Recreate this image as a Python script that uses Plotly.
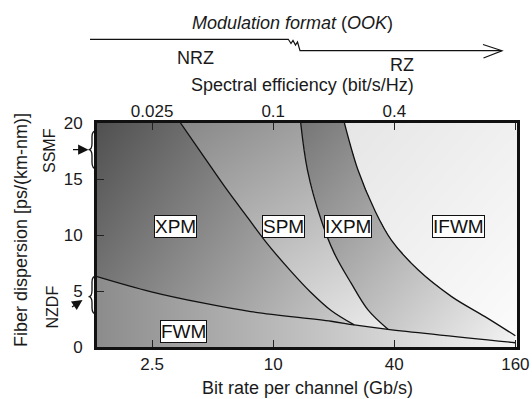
import numpy as np
import plotly.graph_objects as go

# ---------------- data ----------------
bitrate_ticks = [2.5, 10, 40, 160]            # Gb/s (bottom axis)
se_tick_pos = [2.5, 10, 40]                   # matching bit rates for spectral-efficiency ticks
se_tick_text = ["0.025", "0.1", "0.4"]        # bit/s/Hz (top axis)
disp_ticks = [0, 5, 10, 15, 20]               # ps/(km-nm)

# boundary XPM | SPM
xpm_spm_x = [3.46, 4.52, 5.91, 7.45, 9.36, 12.2, 15.4, 19.4, 25.3]
xpm_spm_y = [20.0, 17.0, 14.0, 11.58, 9.21, 6.80, 4.87, 3.26, 1.97]
# boundary SPM | IXPM
spm_ixpm_x = [13.7, 14.8, 17.3, 20.1, 24.4, 29.6, 37.2]
spm_ixpm_y = [20.0, 15.8, 11.36, 8.38, 5.70, 3.31, 1.58]
# boundary IXPM | IFWM
ixpm_ifwm_x = [22.6, 26.4, 31.9, 38.6, 52.5, 77.1, 113, 160]
ixpm_ifwm_y = [20.0, 15.8, 12.25, 9.57, 6.89, 4.50, 2.71, 1.0]
# boundary FWM (below)
fwm_x = [1.33, 2.45, 4.52, 7.73, 19.4, 25.3, 37.2, 160]
fwm_y = [6.29, 4.95, 3.91, 3.16, 2.30, 1.97, 1.58, 0.38]

region_names = ["XPM", "SPM", "IXPM", "IFWM", "FWM"]
region_label_x = [3.27, 11.2, 23.5, 83.2, 3.6]
region_label_y = [10.76, 10.76, 10.76, 10.76, 1.37]

X_MIN, X_MAX = 1.33, 163.0
Y_MIN, Y_MAX = 0.0, 20.0

# ---------------- background shading (style) ----------------
nx, ny = 420, 224
lx_edges = np.linspace(np.log10(X_MIN), np.log10(X_MAX), nx + 1)
x_edges = 10 ** lx_edges
y_edges = np.linspace(Y_MIN, Y_MAX, ny + 1)
lxc = (lx_edges[:-1] + lx_edges[1:]) / 2
yc = (y_edges[:-1] + y_edges[1:]) / 2
LX, Y = np.meshgrid(lxc, yc)
u = (LX - lx_edges[0]) / (lx_edges[-1] - lx_edges[0])
w = 1 - Y / Y_MAX


def bound(cx, cy):
    return np.interp(LX, np.log10(cx), cy, left=99, right=-99)


c1 = bound(xpm_spm_x, xpm_spm_y)
c2 = bound(spm_ixpm_x, spm_ixpm_y)
c3 = bound(ixpm_ifwm_x, ixpm_ifwm_y)
f = np.interp(LX, np.log10(fwm_x), fwm_y)

g = np.where(
    Y < f, 140 + 105 * u,
    np.where(Y < c1, 80 + 130 * u + 50 * w,
             np.where(Y < c2, 120 + 80 * u + 65 * w,
                      np.where(Y < c3, 55 + 130 * u + 60 * w,
                               215 + 25 * u + 12 * w))))
g = np.clip(np.round(g), 0, 255).astype(int)

fig = go.Figure()
fig.add_trace(go.Heatmap(
    x=x_edges, y=y_edges, z=g.tolist(),
    colorscale=[[0, "rgb(0,0,0)"], [1, "rgb(255,255,255)"]],
    zmin=0, zmax=255, showscale=False, hoverinfo="skip", zsmooth=False))

for cx, cy in [(xpm_spm_x, xpm_spm_y), (spm_ixpm_x, spm_ixpm_y),
               (ixpm_ifwm_x, ixpm_ifwm_y), (fwm_x, fwm_y)]:
    fig.add_trace(go.Scatter(x=cx, y=cy, mode="lines",
                             line=dict(color="#111", width=1.3, shape="spline"),
                             hoverinfo="skip"))

# invisible trace to anchor the top axis
fig.add_trace(go.Scatter(x=se_tick_pos, y=[0, 0, 0], xaxis="x2", mode="markers",
                         marker=dict(opacity=0), hoverinfo="skip"))

FONT = "Liberation Sans, Arial, Helvetica, sans-serif"
TXT = "#1a1a1a"

annotations = []
for name, lx, ly in zip(region_names, region_label_x, region_label_y):
    annotations.append(dict(x=np.log10(lx), y=ly, xref="x", yref="y", text=name,
                            xanchor="center", yanchor="middle",
                            showarrow=False, font=dict(size=19, color="#111", family=FONT),
                            bgcolor="white", bordercolor="#111", borderwidth=1, borderpad=0))


def px(p):
    return (p - 97) / 420.0


def py(p):
    return (347 - p) / 224.0


def txt(xv, yv, text, size=18, angle=0, yref="paper"):
    return dict(x=xv, y=yv, xref="paper", yref=yref, showarrow=False, text=text,
                xanchor="center", yanchor="middle", textangle=angle,
                font=dict(size=size, color=TXT))


annotations += [
    txt(px(292), py(22.7), "<i>Modulation format</i> (<i>OOK</i>)"),
    txt(px(195), py(58.3), "NRZ"),
    txt(px(402), py(64.5), "RZ"),
    txt(px(302), py(84.5), "Spectral efficiency (bit/s/Hz)"),
    txt(px(307), py(388), "Bit rate per channel (Gb/s)"),
    txt(px(21), py(230), "Fiber dispersion [ps/(km-nm)]", angle=-90),
    txt(px(49), 17.5, "SSMF", size=16, angle=-90, yref="y"),
    txt(px(52), 3.53, "NZDF", size=16, angle=-90, yref="y"),
    # arrows
    dict(x=px(88.5), y=17.62, xref="paper", yref="y", text="", showarrow=True,
         ax=-17, ay=0, arrowhead=2, arrowsize=1.6, arrowwidth=1.3, arrowcolor="#111", standoff=0),
    dict(x=px(82.5), y=4.2, xref="paper", yref="y", text="", showarrow=True,
         ax=-12, ay=8, arrowhead=2, arrowsize=1.6, arrowwidth=1.3, arrowcolor="#111", standoff=0),
]


def brace(ytop, ymid, ybot, d=0.55):
    xe, xs, xt = px(96.5), px(92), px(88.5)
    return (f"M {xe},{ytop} Q {xs},{ytop} {xs},{ytop - d} L {xs},{ymid + d} "
            f"Q {xs},{ymid} {xt},{ymid} Q {xs},{ymid} {xs},{ymid - d} "
            f"L {xs},{ybot + d} Q {xs},{ybot} {xe},{ybot}")


shapes = [
    dict(type="path", xref="paper", yref="y", path=brace(19.32, 17.62, 15.92),
         line=dict(color="#111", width=1.3)),
    dict(type="path", xref="paper", yref="y", path=brace(6.35, 4.5, 2.95),
         line=dict(color="#111", width=1.3)),
    # modulation-format arrow
    dict(type="path", xref="paper", yref="paper",
         path=(f"M {px(90)},{py(39.3)} L {px(288.3)},{py(39.3)} L {px(291)},{py(43.5)} "
               f"L {px(293)},{py(40.5)} L {px(295.5)},{py(45)} L {px(297.5)},{py(42)} "
               f"L {px(300)},{py(50.7)} L {px(501.5)},{py(50.7)}"),
         line=dict(color="#111", width=1.2)),
    dict(type="path", xref="paper", yref="paper",
         path=f"M {px(483)},{py(44.5)} L {px(502)},{py(50.7)} L {px(483.5)},{py(58)}",
         line=dict(color="#111", width=1.2)),
]

fig.update_layout(
    width=532, height=399,
    margin=dict(l=97, r=15, t=123, b=52, autoexpand=False),
    paper_bgcolor="white", plot_bgcolor="white",
    showlegend=False,
    font=dict(family=FONT, size=18, color=TXT),
    xaxis=dict(type="log", range=[np.log10(X_MIN), np.log10(X_MAX)],
               tickvals=bitrate_ticks, ticktext=[str(t) for t in bitrate_ticks],
               ticks="inside", ticklen=7, tickwidth=1.2, tickcolor="#222",
               showline=True, linewidth=2.8, linecolor="#111", mirror="ticks",
               showgrid=False, zeroline=False, tickfont=dict(size=17, color=TXT),
               ticklabelstandoff=0),
    xaxis2=dict(type="log", range=[np.log10(X_MIN), np.log10(X_MAX)],
                overlaying="x", side="top", anchor="y",
                tickvals=se_tick_pos, ticktext=se_tick_text, ticks="",
                showline=False, showgrid=False, zeroline=False,
                tickfont=dict(size=17, color=TXT), ticklabelstandoff=2),
    yaxis=dict(range=[Y_MIN, Y_MAX], tickvals=disp_ticks,
               ticks="inside", ticklen=7, tickwidth=1.2, tickcolor="#222",
               showline=True, linewidth=2.8, linecolor="#111", mirror=True,
               showgrid=False, zeroline=False, tickfont=dict(size=17, color=TXT),
               ticklabelstandoff=8),
    annotations=annotations,
    shapes=shapes,
)

fig.write_html("out.html")
